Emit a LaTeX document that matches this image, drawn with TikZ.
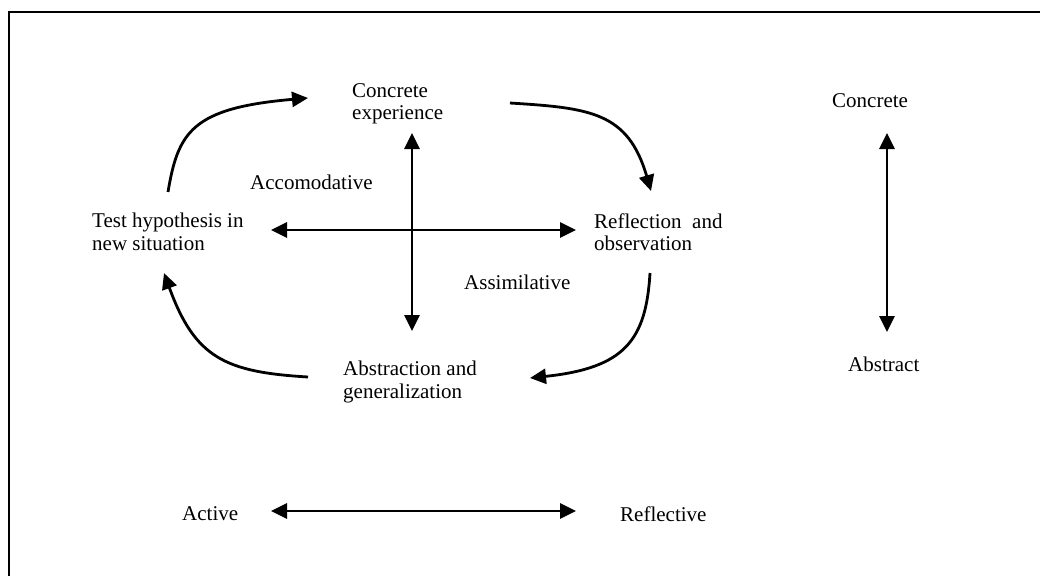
\documentclass[tikz,border=0pt]{standalone}
\usepackage{fontspec}
\setmainfont{Liberation Serif}
\usetikzlibrary{arrows.meta}
\begin{document}
\begin{tikzpicture}[x=1pt,y=-1pt,
  lbl/.style={inner sep=0pt,font=\fontsize{21}{22.5}\selectfont,align=left},
  conn/.style={line width=2.8pt,-{Triangle[length=16pt,width=15pt]}},
  dconn/.style={line width=2.8pt,{Triangle[length=16pt,width=15pt]}-{Triangle[length=16pt,width=15pt]}}]
\useasboundingbox (0,0) rectangle (1040,576);
\draw[line width=2.2pt] (1040,12) -- (9,12) -- (9,576);
% labels
\node[lbl,anchor=west] (ce) at (352,104) {Concrete\\experience};
\node[lbl,anchor=west] (acc) at (250,182) {Accomodative};
\node[lbl,anchor=west] (th) at (92,232) {Test hypothesis in\\new situation};
\node[lbl,anchor=west] (ro) at (594,232) {Reflection~ and\\observation};
\node[lbl,anchor=west] (as) at (464,282) {Assimilative};
\node[lbl,anchor=west] (ag) at (343,382) {Abstraction and\\generalization};
\node[lbl,anchor=west] (cr) at (832,101) {Concrete};
\node[lbl,anchor=west] (ab) at (848,364) {Abstract};
\node[lbl,anchor=west] (act) at (182,514) {Active};
\node[lbl,anchor=west] (ref) at (620,514) {Reflective};
% arrow endpoints
\coordinate (vt) at (412,133);
\coordinate (vb) at (412,331);
\coordinate (hl) at (271,230);
\coordinate (hr) at (576,230);
\coordinate (rt) at (887,133);
\coordinate (rb) at (887,332);
\coordinate (bl) at (271,511);
\coordinate (br) at (576,511);
\coordinate (c1s) at (168,192);
\coordinate (c1e) at (308,98);
\coordinate (c2s) at (510,103);
\coordinate (c2e) at (651,191);
\coordinate (c3s) at (650,273);
\coordinate (c3e) at (530,378);
\coordinate (c4s) at (308,377);
\coordinate (c4e) at (164,273);
% straight double arrows
\draw[dconn] (vt) -- (vb);
\draw[dconn] (hl) -- (hr);
\draw[dconn] (rt) -- (rb);
\draw[dconn] (bl) -- (br);
% curved cycle arrows
\draw[conn] (c1s) .. controls (178,132) and (192,108) .. (c1e);
\draw[conn] (c2s) .. controls (590,108) and (628,112) .. (c2e);
\draw[conn] (c3s) .. controls (646,340) and (625,368) .. (c3e);
\draw[conn] (c4s) .. controls (225,372) and (195,358) .. (c4e);
\end{tikzpicture}
\end{document}
